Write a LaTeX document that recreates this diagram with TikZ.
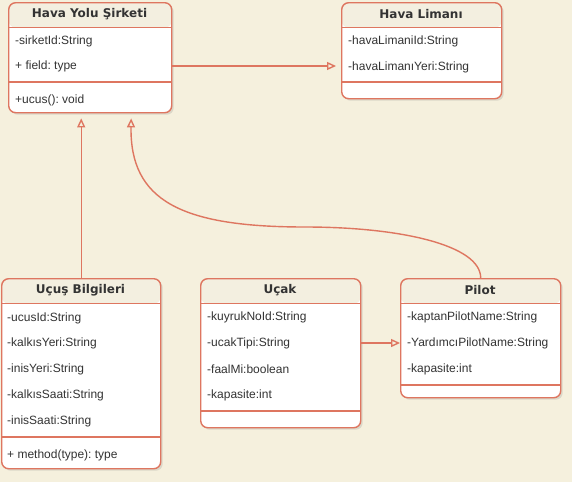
\documentclass[tikz,border=0pt]{standalone}
\usepackage{fontspec}
\setmainfont{Liberation Sans}
\newfontfamily\titlefont{DejaVu Sans}
\usetikzlibrary{arrows.meta, positioning, calc, shadows}
\definecolor{paper}{RGB}{245,240,221}
\definecolor{bandcol}{RGB}{243,239,224}
\definecolor{linecol}{RGB}{222,118,96}
\definecolor{ink}{RGB}{51,51,51}
\tikzset{classbox/.style={rectangle,draw=linecol,line width=1.4pt,fill=white,rounded corners=7pt,anchor=north west,inner sep=0pt,
            drop shadow={shadow xshift=2pt,shadow yshift=-2pt,opacity=0.22},
            path picture={\fill[bandcol] (path picture bounding box.north west) rectangle ([yshift=-25pt]path picture bounding box.north east);
                          \draw[linecol,line width=1.4pt] ([yshift=-25pt]path picture bounding box.north west) -- ([yshift=-25pt]path picture bounding box.north east);}},
         classtitle/.style={font=\titlefont\bfseries\fontsize{12}{14}\selectfont,text=ink,inner sep=0pt},
         attr/.style={anchor=west,font=\fontsize{12}{14}\selectfont,text=ink,inner sep=0pt},
         divider/.style={draw=linecol,line width=1.4pt},
         arrow/.style={draw=linecol,line width=1.4pt,-{Triangle[open,length=9pt,width=8pt]}}}

\begin{document}
\frenchspacing
\begin{tikzpicture}[x=1pt,y=-1pt]
    \fill[paper] (0,0) rectangle (572,482);
    \useasboundingbox (0,0) rectangle (572,482);
    % Classes
    \node[classbox,minimum width=163pt,minimum height=110pt] (hys) at (8,2) {};
    \node[classtitle] (hyst) at (89.5,14.5) {Hava Yolu Şirketi};
    \node[attr] (hys1) at (15,41) {-sirketId:String};
    \node[attr] (hys2) at (15,66) {+ field: type};
    \draw[divider] (hys.west |- 0,82) -- (hys.east |- 0,82);
    \node[attr] (hysm) at (15,100) {+ucus(): void};

    \node[classbox,minimum width=160pt,minimum height=96pt] (hl) at (341,2) {};
    \node[classtitle] (hlt) at (421,14.5) {Hava Limanı};
    \node[attr] (hl1) at (348,41) {-havaLimaniId:String};
    \node[attr] (hl2) at (348,67) {-havaLimanıYeri:String};
    \draw[divider] (hl.west |- 0,82) -- (hl.east |- 0,82);

    \node[classbox,minimum width=159pt,minimum height=190pt] (ub) at (1,278) {};
    \node[classtitle] (ubt) at (80.5,290.5) {Uçuş Bilgileri};
    \node[attr] (ub1) at (7,318) {-ucusId:String};
    \node[attr] (ub2) at (7,343) {-kalkısYeri:String};
    \node[attr] (ub3) at (7,369) {-inisYeri:String};
    \node[attr] (ub4) at (7,395) {-kalkısSaati:String};
    \node[attr] (ub5) at (7,421) {-inisSaati:String};
    \draw[divider] (ub.west |- 0,437) -- (ub.east |- 0,437);
    \node[attr] (ubm) at (7,455) {+ method(type): type};

    \node[classbox,minimum width=160pt,minimum height=149pt] (ucak) at (200,278) {};
    \node[classtitle] (ucakt) at (280,290.5) {Uçak};
    \node[attr] (ucak1) at (207,317) {-kuyrukNoId:String};
    \node[attr] (ucak2) at (207,343) {-ucakTipi:String};
    \node[attr] (ucak3) at (207,369) {-faalMi:boolean};
    \node[attr] (ucak4) at (207,395) {-kapasite:int};
    \draw[divider] (ucak.west |- 0,411) -- (ucak.east |- 0,411);

    \node[classbox,minimum width=160pt,minimum height=119pt] (pilot) at (400,278) {};
    \node[classtitle] (pilott) at (480,290.5) {Pilot};
    \node[attr] (pilot1) at (407,317) {-kaptanPilotName:String};
    \node[attr] (pilot2) at (407,343) {-YardımcıPilotName:String};
    \node[attr] (pilot3) at (407,369) {-kapasite:int};
    \draw[divider] (pilot.west |- 0,385) -- (pilot.east |- 0,385);
    % Connectors
    \coordinate (bend) at (305,227);
    \draw[arrow,shorten >=5pt] (hys.east |- hys2) -- (hl.west |- hys2);
    \draw[arrow,shorten >=5pt] (ub.north) -- (ub.north |- hys.south);
    \draw[arrow] (ucak.east |- ucak2) -- (pilot.west |- ucak2);
    \draw[arrow,shorten >=5pt] (pilot.north) .. controls +(0,-33) and (400,227) .. (bend) .. controls (180,227) and (130,200) .. ([xshift=41pt]hys.south);
\end{tikzpicture}
\end{document}
